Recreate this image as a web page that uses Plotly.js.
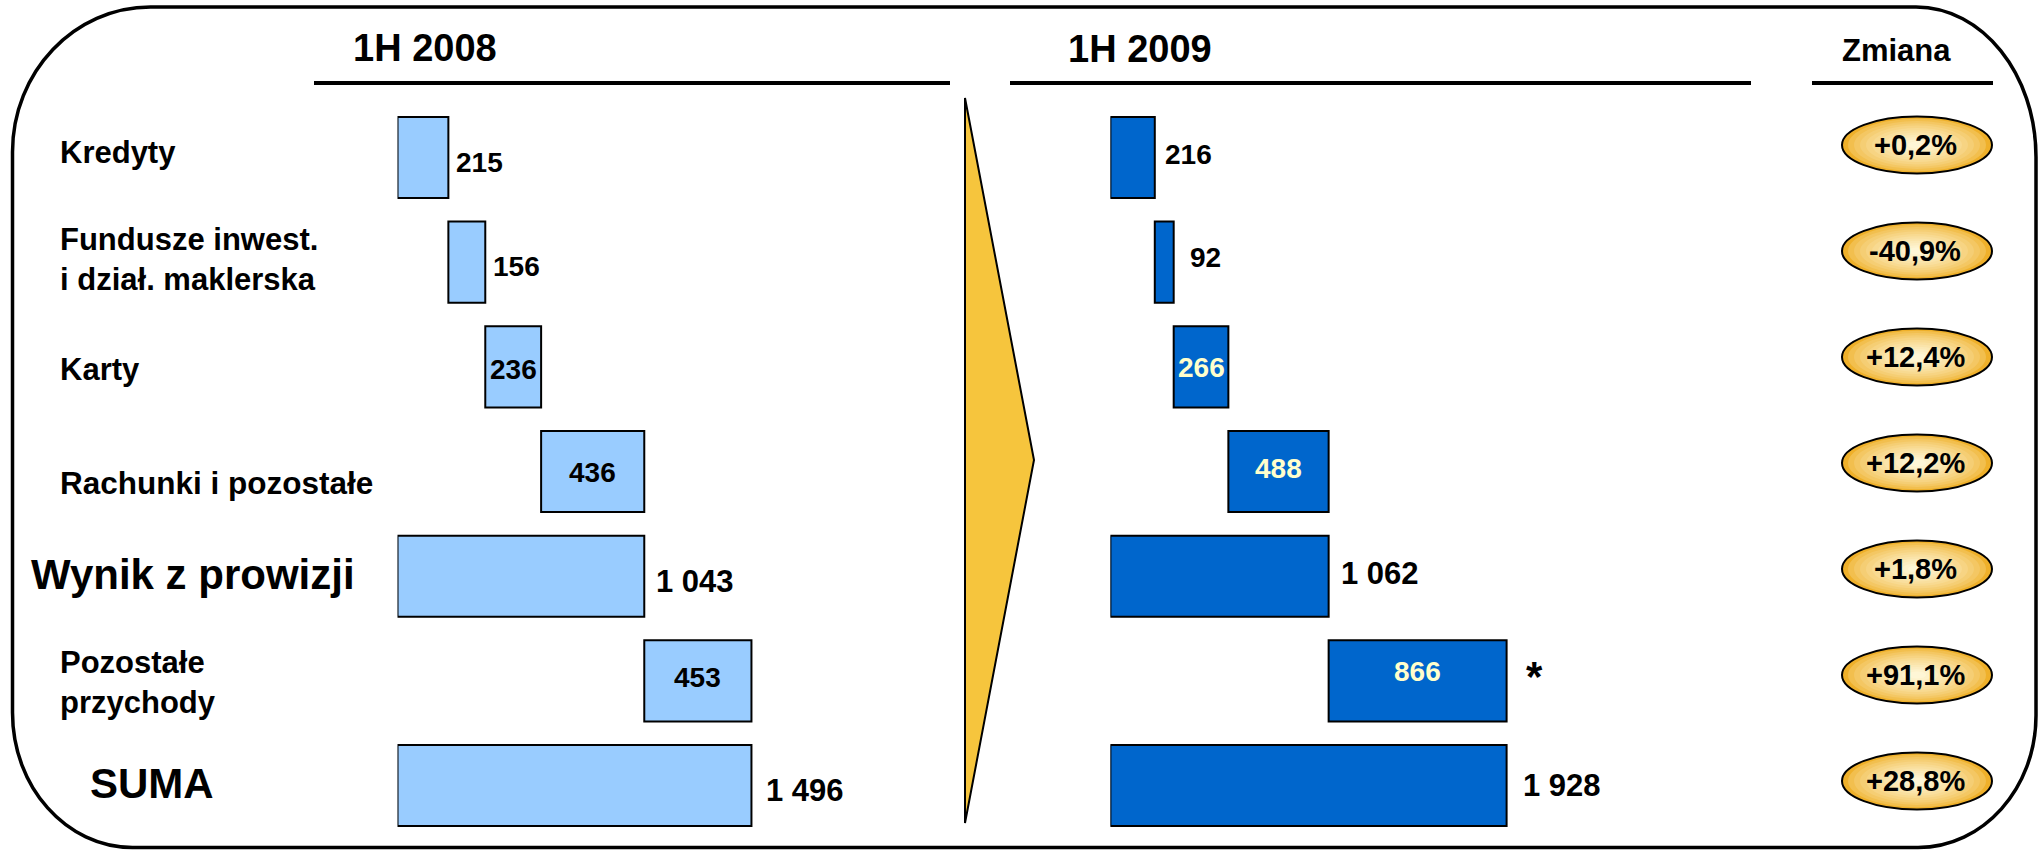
<!DOCTYPE html>
<html>
<head>
<meta charset="utf-8">
<script src="https://cdn.plot.ly/plotly-3.0.1.min.js"></script>
<style>
  html, body { margin: 0; padding: 0; background: #ffffff; }
  #chart { width: 2040px; height: 850px; }
</style>
</head>
<body>
<div id="chart"></div>
<script>
// ---------------- DATA ----------------
const categoryKeys = ['kredyty', 'fundusze', 'karty', 'rachunki', 'wynik', 'pozostale', 'suma'];
const categoryLabels = ['Kredyty', 'Fundusze inwest.<br>i dział. maklerska', 'Karty', 'Rachunki i pozostałe',
                        'Wynik z prowizji', 'Pozostałe<br>przychody', 'SUMA'];
const isTotal = [false, false, false, false, true, false, true];
const values2008 = [215, 156, 236, 436, 1043, 453, 1496];
const values2009 = [216, 92, 266, 488, 1062, 866, 1928];
const changeLabels = ['+0,2%', '-40,9%', '+12,4%', '+12,2%', '+1,8%', '+91,1%', '+28,8%'];
const periodTitles = ['1H 2008', '1H 2009'];
const changeTitle = 'Zmiana';
const footnoteMark = '*';   // attached to "Pozostałe przychody" 1H 2009

// ---------------- STYLE ----------------
const W = 2040, H = 850;
const FONT = 'Liberation Sans, Arial, sans-serif';
const X = px => px / W;
const Y = py => 1 - py / H;

const catFontSize = [31, 31, 31, 31.5, 42, 31, 42];
const catLeftPx   = [58, 58, 58, 58, 29, 58, 88];
const catShiftPx  = [-5, -3, 3, 11, -2, 2, -2];       // px downward from row centre

const inside2008 = [false, false, true, true, false, true, false];
const inside2009 = [false, false, true, true, false, true, false];
const gap2008 = [6, 6, 0, 0, 10, 0, 13];
const gap2009 = [8, 14, 0, 0, 10, 0, 14];
const vShift2008 = [5, 4, 3, 1, 5, -3, 5];
const vShift2009 = [-3, -5, 1, -3, -3, -9, 0];

// Running bases (waterfall)
function bases(vals) {
  let run = 0; const b = [];
  vals.forEach((v, i) => {
    if (isTotal[i]) { b.push(0); run = v; } else { b.push(run); run += v; }
  });
  return b;
}
const base2008 = bases(values2008);
const base2009 = bases(values2009);

function fmt(n) {
  return n >= 1000 ? Math.floor(n / 1000) + ' ' + String(n % 1000).padStart(3, '0') : String(n);
}

// Axis geometry (pixel)
const left0 = 397.5, leftScale = 0.2366, leftEnd = 950;
const right0 = 1110.4, rightScale = 0.2055, rightEnd = 1750;
const rowTop = 157.5, rowStep = 104.67;
const yTopPx = rowTop - rowStep / 2, yBotPx = rowTop + rowStep * 6.5;

const traces = [
  {
    type: 'bar', orientation: 'h', xaxis: 'x', yaxis: 'y',
    y: categoryKeys, x: values2008, base: base2008, width: 0.775,
    marker: { color: '#99CCFF', line: { color: '#000000', width: 2 } },
    hoverinfo: 'skip', showlegend: false
  },
  {
    type: 'bar', orientation: 'h', xaxis: 'x2', yaxis: 'y',
    y: categoryKeys, x: values2009, base: base2009, width: 0.775,
    marker: { color: '#0066CC', line: { color: '#000000', width: 2 } },
    hoverinfo: 'skip', showlegend: false
  }
];

const annotations = [];
const shapes = [];

// Headers
const hdr = (text, cx, cy, size) => annotations.push({
  xref: 'paper', yref: 'paper', x: X(cx), y: Y(cy), xanchor: 'center', yanchor: 'middle',
  text: text, showarrow: false, font: { family: FONT, size: size, color: '#000', weight: 'bold' }
});
hdr(periodTitles[0], 425, 48, 38);
hdr(periodTitles[1], 1140, 49, 38);
hdr(changeTitle, 1896, 50, 31);

// Underlines
[[314, 950], [1010, 1751], [1812, 1993]].forEach(([a, b]) => shapes.push({
  type: 'line', xref: 'paper', yref: 'paper', x0: X(a), x1: X(b), y0: Y(83), y1: Y(83),
  line: { color: '#000', width: 4 }
}));

// Frame with rounded corners
(function () {
  const L = 12.5, R = 2036, T = 7, B = 847.5, k = 0.5523;
  const tl = [138, 145], tr = [120, 150], br = [118, 132], bl = [120, 135];
  const p = (x, y) => X(x).toFixed(5) + ',' + Y(y).toFixed(5);
  const path =
    'M' + p(L, T + tl[1]) +
    ' C' + p(L, T + tl[1] * (1 - k)) + ' ' + p(L + tl[0] * (1 - k), T) + ' ' + p(L + tl[0], T) +
    ' L' + p(R - tr[0], T) +
    ' C' + p(R - tr[0] * (1 - k), T) + ' ' + p(R, T + tr[1] * (1 - k)) + ' ' + p(R, T + tr[1]) +
    ' L' + p(R, B - br[1]) +
    ' C' + p(R, B - br[1] * (1 - k)) + ' ' + p(R - br[0] * (1 - k), B) + ' ' + p(R - br[0], B) +
    ' L' + p(L + bl[0], B) +
    ' C' + p(L + bl[0] * (1 - k), B) + ' ' + p(L, B - bl[1] * (1 - k)) + ' ' + p(L, B - bl[1]) +
    ' Z';
  shapes.push({ type: 'path', xref: 'paper', yref: 'paper', path: path,
    line: { color: '#000', width: 3.5 }, fillcolor: 'rgba(0,0,0,0)', layer: 'below' });
})();

// Yellow arrow
(function () {
  const p = (x, y) => X(x).toFixed(5) + ',' + Y(y).toFixed(5);
  shapes.push({ type: 'path', xref: 'paper', yref: 'paper',
    path: 'M' + p(965, 98) + ' L' + p(1034, 460) + ' L' + p(965, 823) + ' Z',
    fillcolor: '#F6C53D', line: { color: '#000', width: 2 } });
})();

// Category labels
categoryLabels.forEach((lab, i) => annotations.push({
  xref: 'paper', yref: 'y', x: X(catLeftPx[i]), y: categoryKeys[i], xanchor: 'left', yanchor: 'middle',
  yshift: -catShiftPx[i], text: lab, align: 'left', showarrow: false,
  font: { family: FONT, size: catFontSize[i], color: '#000', weight: 'bold' }
}));

// Value labels
function valueLabels(vals, bs, inside, gaps, vsh, xref, insideColor) {
  vals.forEach((v, i) => {
    const a = {
      xref: xref, yref: 'y', y: categoryKeys[i], yanchor: 'middle', yshift: -vsh[i],
      text: fmt(v), showarrow: false,
      font: { family: FONT, size: isTotal[i] ? 31 : 28, weight: 'bold', color: '#000' }
    };
    if (inside[i]) {
      a.x = bs[i] + v / 2; a.xanchor = 'center'; a.font.color = insideColor;
    } else {
      a.x = bs[i] + v; a.xanchor = 'left'; a.xshift = gaps[i];
    }
    annotations.push(a);
  });
}
valueLabels(values2008, base2008, inside2008, gap2008, vShift2008, 'x', '#000000');
valueLabels(values2009, base2009, inside2009, gap2009, vShift2009, 'x2', '#FFFFCC');

// Footnote mark
annotations.push({
  xref: 'x2', yref: 'y', x: base2009[5] + values2009[5], y: categoryKeys[5], xanchor: 'center', yanchor: 'middle',
  xshift: 28, yshift: 4, text: footnoteMark, showarrow: false,
  font: { family: FONT, size: 42, weight: 'bold', color: '#000' }
});

// Change badges (ellipses with radial-looking fill)
function mix(c1, c2, t) {
  const h = c => [1, 3, 5].map(j => parseInt(c.substr(j, 2), 16));
  const a = h(c1), b = h(c2);
  return 'rgb(' + a.map((v, j) => Math.round(v + (b[j] - v) * t)).join(',') + ')';
}
changeLabels.forEach((lab, i) => {
  const cx = 1917, cy = 145 + i * 106, rx = 75, ry = 28.5;
  const layers = 12;
  for (let j = 0; j < layers; j++) {
    const s = 1 - j * 0.08;
    const t = Math.pow(j / (layers - 1), 0.65);
    shapes.push({
      type: 'circle', xref: 'paper', yref: 'paper',
      x0: X(cx - rx * s), x1: X(cx + rx * s), y0: Y(cy + ry * s), y1: Y(cy - ry * s),
      fillcolor: mix('#EFB02A', '#FEF6D6', t),
      line: { color: '#000', width: j === 0 ? 2 : 0 }
    });
  }
  annotations.push({
    xref: 'paper', yref: 'paper', x: X(cx - 2), y: Y(cy), xanchor: 'center', yanchor: 'middle',
    text: lab, showarrow: false, font: { family: FONT, size: 29, weight: 'bold', color: '#000' }
  });
});

const hiddenAxis = { visible: false, showgrid: false, zeroline: false, fixedrange: true };
const layout = {
  width: W, height: H,
  margin: { l: 0, r: 0, t: 0, b: 0, pad: 0 },
  paper_bgcolor: '#ffffff', plot_bgcolor: 'rgba(0,0,0,0)',
  barmode: 'overlay', showlegend: false,
  xaxis: Object.assign({}, hiddenAxis, { domain: [X(left0), X(leftEnd)], range: [0, (leftEnd - left0) / leftScale], anchor: 'y' }),
  xaxis2: Object.assign({}, hiddenAxis, { domain: [X(right0), X(rightEnd)], range: [0, (rightEnd - right0) / rightScale], anchor: 'y' }),
  yaxis: Object.assign({}, hiddenAxis, { type: 'category', categoryorder: 'array', categoryarray: categoryKeys,
    domain: [Y(yBotPx), Y(yTopPx)], range: [6.5, -0.5], anchor: 'x' }),
  shapes: shapes,
  annotations: annotations
};

Plotly.newPlot('chart', traces, layout, { displayModeBar: false, staticPlot: true });
</script>
</body>
</html>
